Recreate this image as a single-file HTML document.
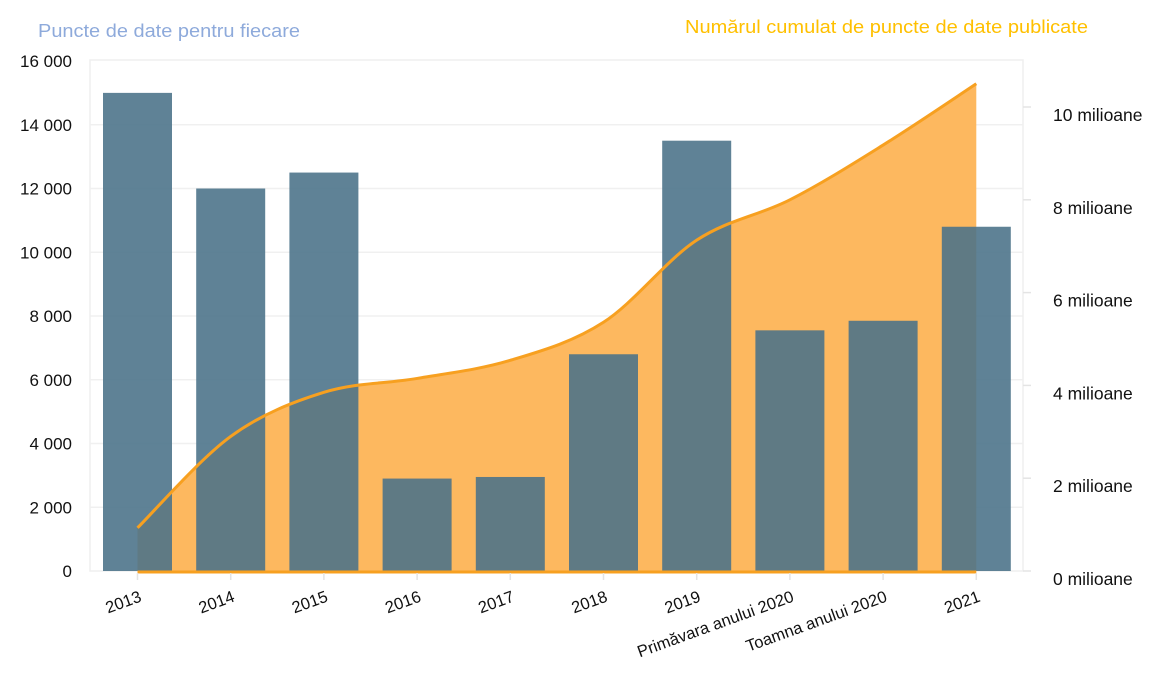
<!DOCTYPE html>
<html><head><meta charset="utf-8"><style>
body{margin:0;background:#fff;}
svg text{font-family:"Liberation Sans",sans-serif;}
</style></head><body>
<svg id="chart" width="1160" height="689" viewBox="0 0 1160 689" xmlns="http://www.w3.org/2000/svg">
<text x="38" y="37" font-size="18" textLength="262" lengthAdjust="spacingAndGlyphs" fill="#8eaadb">Puncte de date pentru fiecare</text>
<text x="685" y="33" font-size="18" textLength="403" lengthAdjust="spacingAndGlyphs" fill="#ffc000">Numărul cumulat de puncte de date publicate</text>
<rect x="90" y="60" width="933" height="511" fill="none" stroke="#efefef" stroke-width="1.5"/>
<g id="grid"></g><g id="area"></g><g id="bars"></g><g id="line"></g><g id="axes"></g>
</svg>
<script>
const categories=["2013","2014","2015","2016","2017","2018","2019","Primăvara anului 2020","Toamna anului 2020","2021"];
const perYear=[15000,12000,12500,2900,2950,6800,13500,7550,7850,10800];
const cumulative=[0.93,2.9,3.85,4.15,4.54,5.36,7.13,8.0,9.18,10.5];
const leftTicks=[0,2000,4000,6000,8000,10000,12000,14000,16000];
const leftTickLabels=["0","2 000","4 000","6 000","8 000","10 000","12 000","14 000","16 000"];
const rightTicks=[0,2,4,6,8,10];
const rightTickLabels=["0 milioane","2 milioane","4 milioane","6 milioane","8 milioane","10 milioane"];

const NS="http://www.w3.org/2000/svg";
const x0=137.5, step=93.2, bw=69;
const xC=i=>x0+i*step;
const yL=v=>571-v*(510/16000);
const yR=v=>571-v*(464/10);
function mk(tag,attrs,parent,txt){const e=document.createElementNS(NS,tag);for(const k in attrs)e.setAttribute(k,attrs[k]);if(txt!==undefined)e.textContent=txt;document.getElementById(parent).appendChild(e);return e;}

leftTicks.forEach((t,i)=>{
  if(i>0&&i<leftTicks.length-1){const g=mk('line',{x1:90,x2:1023,y1:yL(t),y2:yL(t),stroke:'#f0f0f0','stroke-width':1.5},'grid');
  
  }
  const l=mk('text',{x:72,y:yL(t)+6,'font-size':17,'text-anchor':'end',fill:'#111'},'axes',leftTickLabels[i]);
  
  
});
rightTicks.forEach((t,i)=>{
  const tk=mk('line',{x1:1023,x2:1031,y1:yR(t),y2:yR(t),stroke:'#e4e4e4','stroke-width':1.5},'axes');
  
  
  const l=mk('text',{x:1053,y:yR(t)+14,'font-size':17.5,fill:'#111'},'axes',rightTickLabels[i]);
  
  
});

const pts=cumulative.map((v,i)=>[xC(i),yR(v)]);
function smooth(p){let d=`M${p[0][0]},${p[0][1]}`;for(let i=0;i<p.length-1;i++){const a=p[i-1]||p[i],b=p[i],c=p[i+1],e=p[i+2]||c;
  const c1=[b[0]+(c[0]-a[0])/6,b[1]+(c[1]-a[1])/6],c2=[c[0]-(e[0]-b[0])/6,c[1]-(e[1]-b[1])/6];
  d+=` C${c1[0]},${c1[1]} ${c2[0]},${c2[1]} ${c[0]},${c[1]}`;}return d;}
const curve=smooth(pts);
const ar=mk('path',{d:curve+` L${xC(cumulative.length-1)},${yR(0)} L${xC(0)},${yR(0)} Z`,fill:'#fdb85f'},'area');



perYear.forEach((v,i)=>{
  const r=mk('rect',{x:xC(i)-bw/2,y:yL(v),width:bw,height:yL(0)-yL(v),fill:'rgb(75,115,137)','fill-opacity':0.89},'bars');
  
  
});

const ln=mk('path',{d:curve,fill:'none',stroke:'#f7a020','stroke-width':3},'line');


const bl=mk('line',{x1:xC(0),x2:xC(cumulative.length-1),y1:yR(0)+1,y2:yR(0)+1,stroke:'#f7a020','stroke-width':3},'line');



categories.forEach((c,i)=>{
  const tk=mk('line',{x1:xC(i),x2:xC(i),y1:573,y2:580,stroke:'#e4e4e4','stroke-width':1.5},'axes');
  
  
  const t=mk('text',{x:xC(i)+5,y:601,'font-size':16.5,'text-anchor':'end',fill:'#111',transform:`rotate(-20 ${xC(i)+5} 601)`},'axes',c);
  
  
});
</script>
</body></html>
